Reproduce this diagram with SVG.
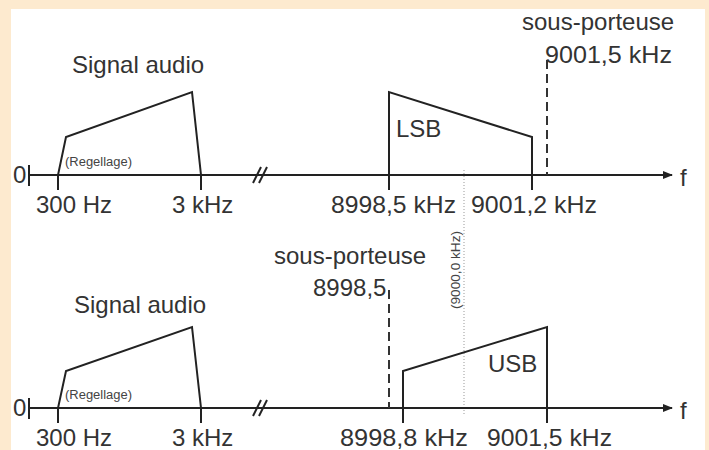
<svg xmlns="http://www.w3.org/2000/svg" width="709" height="450" viewBox="0 0 709 450">
<style>
.t{font-family:"Liberation Sans",Arial,sans-serif;font-size:24px;fill:#333}
.s{font-family:"Liberation Sans",Arial,sans-serif;font-size:12px;fill:#444}
.ln{fill:none;stroke:#222;stroke-width:2}
.dash{fill:none;stroke:#333;stroke-width:2;stroke-dasharray:9,5}
.dot{fill:none;stroke:#999;stroke-width:1;stroke-dasharray:1,2}
</style>
<defs>
<marker id="arr" markerWidth="10" markerHeight="8" refX="9" refY="4" orient="auto" markerUnits="userSpaceOnUse">
<path d="M0,0 L10,4 L0,8 Z" fill="#222"/>
</marker>
</defs>
<rect x="0" y="0" width="709" height="450" fill="#FDEACF"/>
<rect x="11" y="9" width="694" height="441" fill="#FFFFFF"/>

<g id="connectors">
<line class="dot" x1="464" y1="170" x2="464" y2="415"/>
<line class="ln" x1="29" y1="175" x2="672" y2="175" marker-end="url(#arr)"/>
<line class="ln" x1="29" y1="408" x2="672" y2="408" marker-end="url(#arr)"/>
</g>

<g id="top-axis">
<text class="t" x="13" y="183">0</text>
<line class="ln" x1="29" y1="165" x2="29" y2="186"/>
<text class="t" x="680" y="186">f</text>
<line class="ln" x1="253" y1="183" x2="261" y2="167"/>
<line class="ln" x1="259" y1="183" x2="267" y2="167"/>
</g>

<g id="top-audio">
<text class="t" x="72" y="73">Signal audio</text>
<polyline class="ln" points="58,190 58,175 66,137 192,92 201,175 201,190"/>
<text class="s" x="65" y="166" textLength="67" lengthAdjust="spacingAndGlyphs">(Regellage)</text>
<text class="t" x="36" y="213">300 Hz</text>
<text class="t" x="172" y="213">3 kHz</text>
</g>

<g id="top-lsb">
<polyline class="ln" points="389,190 389,92 532,137 532,190"/>
<text class="t" x="396" y="137">LSB</text>
<text class="t" x="331" y="213" textLength="125" lengthAdjust="spacingAndGlyphs">8998,5 kHz</text>
<text class="t" x="471" y="213" textLength="126" lengthAdjust="spacingAndGlyphs">9001,2 kHz</text>
</g>

<g id="top-carrier">
<line class="dash" x1="547" y1="60" x2="547" y2="175"/>
<text class="t" x="522" y="30">sous-porteuse</text>
<text class="t" x="545" y="63" textLength="127" lengthAdjust="spacingAndGlyphs">9001,5 kHz</text>
</g>

<g id="bottom-axis">
<text class="t" x="13" y="416">0</text>
<line class="ln" x1="29" y1="398" x2="29" y2="419"/>
<text class="t" x="680" y="419">f</text>
<line class="ln" x1="253" y1="416" x2="261" y2="400"/>
<line class="ln" x1="259" y1="416" x2="267" y2="400"/>
</g>

<g id="bottom-audio">
<text class="t" x="74" y="313">Signal audio</text>
<polyline class="ln" points="58,423 58,408 66,371 192,327 201,408 201,423"/>
<text class="s" x="65" y="399" textLength="67" lengthAdjust="spacingAndGlyphs">(Regellage)</text>
<text class="t" x="36" y="446">300 Hz</text>
<text class="t" x="172" y="446">3 kHz</text>
</g>

<g id="bottom-carrier">
<line class="dash" x1="389" y1="290" x2="389" y2="408"/>
<text class="t" x="274" y="264">sous-porteuse</text>
<text class="t" x="313" y="296">8998,5</text>
</g>

<g id="center-label">
<text class="s" transform="translate(460,309) rotate(-90)" font-size="13" textLength="78" lengthAdjust="spacingAndGlyphs">(9000,0 kHz)</text>
</g>

<g id="bottom-usb">
<polyline class="ln" points="403,423 403,371 547,327 547,423"/>
<text class="t" x="488" y="372">USB</text>
<text class="t" x="340" y="446" textLength="128" lengthAdjust="spacingAndGlyphs">8998,8 kHz</text>
<text class="t" x="487" y="446" textLength="125" lengthAdjust="spacingAndGlyphs">9001,5 kHz</text>
</g>
</svg>
